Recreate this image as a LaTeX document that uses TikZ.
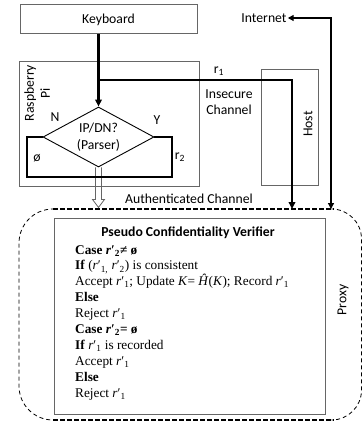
\documentclass[tikz,border=0pt]{standalone}
\usepackage{fontspec}
\setmainfont{Carlito}
\newfontfamily\tnr{Liberation Serif}
\usetikzlibrary{arrows.meta,shapes.geometric}

\begin{document}
\begin{tikzpicture}[x=1pt,y=-1pt,
  box/.style={draw=black!60, line width=1pt, inner sep=0pt},
  heavy/.style={line width=2.6pt},
  tipd/.style={-{Triangle[length=7pt,width=6.5pt]}},
  sans/.style={font=\fontsize{13.7}{16}\selectfont, inner sep=0pt},
  serif/.style={font=\tnr\fontsize{13.3}{15}\selectfont, inner sep=0pt, anchor=base west},
  thickdash/.style={line width=1.8pt, dash pattern=on 4.5pt off 2.5pt},
  thindash/.style={line width=0.8pt, dash pattern=on 4pt off 3pt}]
\useasboundingbox (0,0) rectangle (363,425);

% blocks
\node[box, sans, minimum width=177pt, minimum height=29pt] (kb) at (108.5,19.5) {Keyboard};
\node[box, minimum width=180pt, minimum height=124pt] (rpi) at (109,124) {};
\node[sans, rotate=90, align=center] (rpil) at (37,93) {Raspberry\\Pi};
\node[box, minimum width=57pt, minimum height=115pt] (host) at (289.5,127.5) {};
\node[sans, rotate=90] (hostl) at (308,124) {Host};
\node[sans] (inet) at (264,18) {Internet};
\node[sans, align=center] (insec) at (229,102) {Insecure\\Channel};
\node[sans] (auth) at (189,199) {Authenticated Channel};

% parser
\node[diamond, draw, line width=0.9pt, inner sep=0pt, aspect=1.85,
      minimum width=111pt, minimum height=60pt, align=center,
      font=\fontsize{13.7}{17}\selectfont] (dia) at (98.5,137) {IP/DN?\\(Parser)};
\node[sans] (nlab) at (55,117) {N};
\node[sans] (ylab) at (157,120) {Y};
\node[sans] (empt) at (37,158) {ø};
\node[sans] (r2) at (180,157) {r\textsubscript{2}};
\node[sans] (r1) at (219,71) {r\textsubscript{1}};

% proxy outline
\node[minimum width=343pt, minimum height=211pt, inner sep=0pt] (px) at (190.5,314.5) {};
\draw[thindash, rounded corners=34pt] (55,209) -- (19,209) -- (19,420) -- (55,420);
\draw[thindash, rounded corners=30pt] (333,209) -- (361.5,209) -- (361.5,420) -- (333,420);
\draw[thickdash] (53,209) -- (334,209);
\draw[thickdash] (53,420) -- (334,420);
\node[sans, rotate=90] (proxyl) at (343,300) {Proxy};

% authenticated channel (hollow arrow)
\draw[draw=black!60, line width=0.8pt, line join=miter]
  ([xshift=-3pt]dia.south) -- ++(0,32) -- ++(-3,0) -- ++(6,8) -- ++(6,-8) -- ++(-3,0) -- ++(0,-32);

% loop under the parser
\draw[heavy, line join=miter] (dia.west) -- (27,137) -- (27,177) -- (172,177) -- (172,137) -- (dia.east);

% keyboard input and insecure path to proxy
\draw[heavy, tipd] (kb.south -| dia.north) -- (dia.north);
\coordinate (br) at (dia.north |- 0,80);
\draw[heavy, tipd, line join=miter] (br) -- (292,80) -- (292,209);

% internet link
\draw[line width=1.3pt, {Triangle[length=6pt,width=6pt]}-{Triangle[length=6pt,width=6pt]}, line join=miter]
  ([xshift=1pt]inet.east) -- (331,18) -- (331,209);

% verifier
\node[box, minimum width=271pt, minimum height=196pt] (ver) at (189.5,316) {};
\node[font=\bfseries\fontsize{13.7}{16}\selectfont, inner sep=0pt] (title) at (188,233) {Pseudo Confidentiality Verifier};
\node[serif] (l1) at (75,254) {\textbf{Case \textit{r}′\textsubscript{2}≠ ø}};
\node[serif] (l2) at (75,269.9) {\textbf{If} (\textit{r}′\textsubscript{1,} \textit{r}′\textsubscript{2}) is consistent};
\node[serif] (l3) at (75,285.8) {Accept \textit{r}′\textsubscript{1}; Update \textit{K}= \textit{Ĥ}(\textit{K}); Record \textit{r}′\textsubscript{1}};
\node[serif] (l4) at (75,301.7) {\textbf{Else}};
\node[serif] (l5) at (75,317.6) {Reject \textit{r}′\textsubscript{1}};
\node[serif] (l6) at (75,333.5) {\textbf{Case \textit{r}′\textsubscript{2}= ø}};
\node[serif] (l7) at (75,349.4) {\textbf{If} \textit{r}′\textsubscript{1} is recorded};
\node[serif] (l8) at (75,365.3) {Accept \textit{r}′\textsubscript{1}};
\node[serif] (l9) at (75,381.2) {\textbf{Else}};
\node[serif] (l10) at (75,397.1) {Reject \textit{r}′\textsubscript{1}};
\end{tikzpicture}
\end{document}
